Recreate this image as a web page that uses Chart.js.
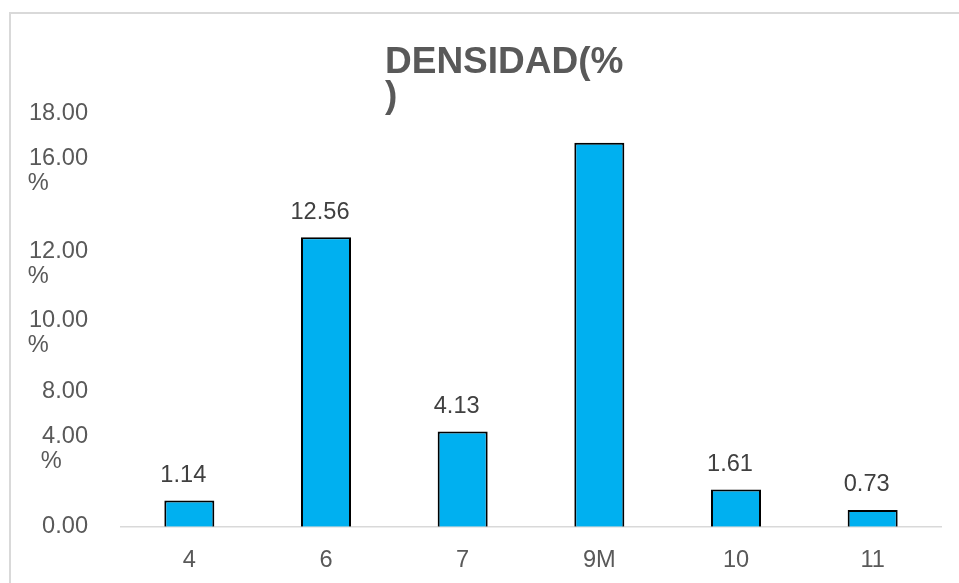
<!DOCTYPE html>
<html>
<head>
<meta charset="utf-8">
<title>DENSIDAD(%)</title>
<script src="https://cdn.jsdelivr.net/npm/chart.js@4/dist/chart.umd.min.js"></script>
<style>
  html, body { margin: 0; padding: 0; background: #ffffff; }
  #wrap { width: 959px; height: 583px; position: relative; }
</style>
</head>
<body>
<div id="wrap"><canvas id="chart"></canvas></div>
<script>
// Categories along the x axis
const categories = ['4', '6', '7', '9M', '10', '11'];
// Density per category, in percent
const densidad = [1.14, 12.56, 4.13, 16.66, 1.61, 0.73];
// Bars whose value is not printed above them
const hiddenValueLabels = ['9M'];
// Y axis tick positions and their printed (wrapped) labels
const yTickValues = [0, 3.36, 5.86, 8.41, 11.40, 15.42, 17.93];
const yTickLabels = [
  ['0.00'],
  ['4.00', '%    '],
  ['8.00'],
  ['10.00', '%      '],
  ['12.00', '%      '],
  ['16.00', '%      '],
  ['18.00']
];
const titleLines = ['DENSIDAD(%', ')'];

const FONT = '"Liberation Sans", Arial, sans-serif';
const TEXT_GREY = '#595959';

// Light frame around the whole chart
const framePlugin = {
  id: 'frame',
  beforeDraw(chart) {
    const ctx = chart.ctx;
    ctx.save();
    ctx.fillStyle = '#ffffff';
    ctx.fillRect(0, 0, chart.width, chart.height);
    ctx.strokeStyle = '#d9d9d9';
    ctx.lineWidth = 2;
    ctx.strokeRect(10, 13, chart.width + 20, chart.height + 20);
    ctx.restore();
  }
};

// Left-aligned, two-line bold title
const titlePlugin = {
  id: 'wrappedTitle',
  afterDraw(chart) {
    const ctx = chart.ctx;
    ctx.save();
    ctx.font = 'bold 37px ' + FONT;
    ctx.fillStyle = TEXT_GREY;
    ctx.textAlign = 'left';
    ctx.textBaseline = 'alphabetic';
    ctx.fillText(titleLines[0], 385, 73);
    ctx.fillText(titleLines[1], 385, 107);
    ctx.restore();
  }
};

// Value labels above the bars
const valueLabelPlugin = {
  id: 'valueLabels',
  afterDatasetsDraw(chart) {
    const ctx = chart.ctx;
    const meta = chart.getDatasetMeta(0);
    const data = chart.data.datasets[0].data;
    ctx.save();
    ctx.font = '23.6px ' + FONT;
    ctx.fillStyle = '#404040';
    ctx.textAlign = 'center';
    ctx.textBaseline = 'middle';
    meta.data.forEach((bar, i) => {
      if (hiddenValueLabels.includes(chart.data.labels[i])) return;
      ctx.fillText(data[i].toFixed(2), bar.x - 6, bar.y - 25);
    });
    ctx.restore();
  }
};

new Chart(document.getElementById('chart'), {
  type: 'bar',
  data: {
    labels: categories,
    datasets: [{
      label: 'DENSIDAD(%)',
      data: densidad,
      backgroundColor: '#00B0F0',
      borderColor: '#000000',
      borderWidth: 2,
      borderSkipped: 'start',
      categoryPercentage: 1.0,
      barPercentage: 0.366
    }]
  },
  options: {
    responsive: true,
    maintainAspectRatio: false,
    animation: false,
    layout: { padding: { top: 112, right: 18, bottom: 9, left: 0 } },
    plugins: {
      legend: { display: false },
      title: { display: false },
      tooltip: { enabled: false }
    },
    scales: {
      x: {
        grid: { display: false, drawTicks: false },
        border: { display: true, color: '#d9d9d9', width: 1.5 },
        afterFit(scale) {
          scale.height = 47.3;
        },
        ticks: {
          padding: 19.5,
          color: TEXT_GREY,
          font: { family: FONT, size: 23.6, lineHeight: 1.2 }
        }
      },
      y: {
        min: 0,
        max: 18,
        grid: { display: false, drawTicks: false },
        border: { display: false },
        afterBuildTicks(scale) {
          scale.ticks = yTickValues.map(v => ({ value: v }));
        },
        afterFit(scale) {
          scale.width = 121;
        },
        ticks: {
          padding: 33,
          color: TEXT_GREY,
          font: { family: FONT, size: 23.6, lineHeight: '25px' },
          callback: (value, index) => yTickLabels[index]
        }
      }
    }
  },
  plugins: [framePlugin, titlePlugin, valueLabelPlugin]
});
</script>
</body>
</html>
